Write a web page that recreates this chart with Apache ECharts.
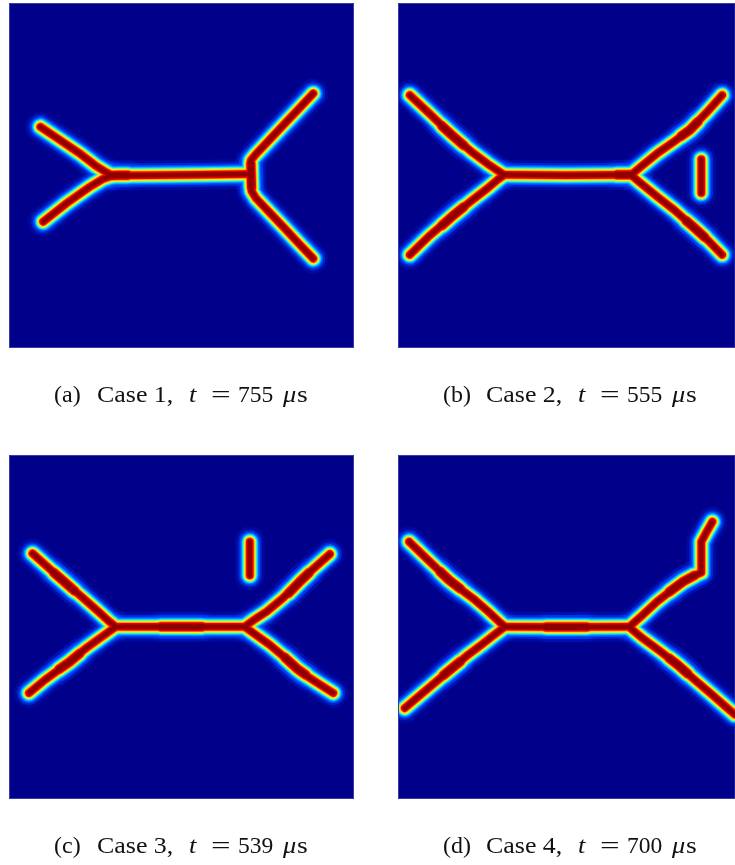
<!DOCTYPE html>
<html>
<head>
<meta charset="utf-8">
<script src="https://cdn.jsdelivr.net/npm/echarts@6/dist/echarts.min.js"></script>
<style>
html,body{margin:0;padding:0;background:#fff;}
#chart{width:735px;height:865px;}
</style>
</head>
<body>
<div id="chart"></div>
<script>
// Panel captions
const captionLetters = ['(a)', '(b)', '(c)', '(d)'];
const caseNames = ['Case 1,', 'Case 2,', 'Case 3,', 'Case 4,'];
const timesUs = ['755', '555', '539', '700'];

// Crack paths (x, y in % of panel width/height, y measured from top)
const case1Paths = [
  [[9.1,35.9],[14,39.2],[20.5,43.6],[25.3,47.3],[28.2,49.1],[29.8,49.9]],
  [[9.9,63.4],[16.6,58.1],[23.4,53.3],[27.2,51.0],[29.8,50.1]],
  [[29.5,50.0],[40,49.9],[55,49.8],[69.8,49.6]],
  [[88.2,26.2],[83.5,31.2],[79.5,35.4],[74.8,40.4],[71.4,44.0],[70.1,45.6],[70.2,50],[70.3,54.5],[71.6,56.6],[75.5,60.7],[79.5,64.9],[84,69.7],[88.2,74.1]]
];
const case1Bulges = [
  [[29.8,50.0],[32,49.95],[34.5,49.9]],
  [[70.1,46.5],[70.2,50],[70.3,53.5]]
];
const case2Paths = [
  [[3.5,26.7],[9.3,32.0],[16.0,38.3],[21.8,43.1],[26.7,46.7],[29.6,48.6],[31.3,49.7]],
  [[3.5,73.0],[9.3,67.5],[16.0,61.9],[21.8,57.3],[26.7,53.6],[29.6,51.2],[31.3,50.0]],
  [[31.3,49.8],[50,49.9],[69.2,49.8]],
  [[69.2,49.8],[72,47.5],[76.9,43.6],[82,40.1],[86.6,36.8],[91.5,31.8],[96.2,26.7]],
  [[69.2,49.9],[72,52.2],[76.9,56.1],[82,60],[87.5,64.8],[92,68.8],[96.2,73.0]],
  [[90.0,45.3],[90.0,55.1]]
];
const case2Bulges = [
  [[13,35.6],[16.0,38.3],[19.5,41.3]],
  [[13,64.5],[16.0,61.9],[19.5,59.1]],
  [[84,38.6],[86.6,36.8],[89,34.4]],
  [[85.5,63.1],[88,65.2],[91,67.9]],
  [[65,49.8],[69.2,49.8]]
];
const case3Paths = [
  [[6.8,28.6],[13.7,34.8],[21.5,41.6],[26,45.6],[28.8,48.2],[30.7,49.7]],
  [[5.8,69.2],[10.5,65.3],[15.7,61.5],[22.4,56.1],[27.5,52.4],[30.7,50.1]],
  [[30.7,49.9],[50,49.9],[68.4,49.9]],
  [[68.4,49.8],[71.5,47.6],[74.7,45.5],[79.5,41.5],[84.3,36.8],[88.5,32.8],[93,28.8]],
  [[68.4,50.0],[72,52.6],[75.6,55.2],[80,58.9],[84.3,62.9],[89,66],[94,69.2]],
  [[69.8,25.2],[69.8,35.0]]
];
const case3Bulges = [
  [[13,34.2],[15.5,36.4],[19,39.5]],
  [[14.5,62.3],[17.5,60.2],[20.5,57.7]],
  [[81,40.2],[84.3,36.8],[87,34.2]],
  [[80,58.9],[83.5,62.1],[86,63.9]],
  [[44,49.9],[56,49.9]]
];
const case4Paths = [
  [[3.3,25.2],[9,30.6],[15.1,36.3],[19,39.3],[22.8,42.1],[27,45.7],[30.5,48.9],[31.5,49.7]],
  [[2.0,73.6],[9,67.8],[16.0,62.0],[20.5,58.3],[24.7,55.2],[28.5,52.3],[31.5,50.1]],
  [[31.5,49.9],[50,50],[68.7,49.9]],
  [[68.7,49.9],[72.5,46.6],[76.9,42.6],[80.8,39.6],[84.6,36.8],[88,35],[90,34.2],[90,29.5],[90,25.2],[91.6,22.3],[93.3,19.4]],
  [[68.7,50.1],[72.5,53.2],[77.9,57.1],[83,61],[87.5,64.9],[93,69.5],[98,73.8],[100,75.5]]
];
const case4Bulges = [
  [[12.5,33.9],[15.1,36.3],[18.5,38.9]],
  [[13.5,64.0],[16.0,62.0],[18.5,60.0]],
  [[80.5,39.8],[84.6,36.8],[88,35]],
  [[80.5,59.1],[83,61],[86,63.6]],
  [[44,50],[56,50]]
];
const allCases = [case1Paths, case2Paths, case3Paths, case4Paths];
const allBulges = [case1Bulges, case2Bulges, case3Bulges, case4Bulges];

// Jet-like colour layers from outer halo to crack core
const layerColors = ['rgba(0,50,255,0.18)','rgba(0,70,255,0.45)','#0050ff','#00a0ff','#10e8ff','#90ff70','#ffe800','#ff8000','#e80000','#900000'];
const layerWidths = [30, 24, 20, 17, 15, 13, 11, 9, 7.5, 4.5];
const bulgeExtra  = [0, 0, 0, 1, 1, 1, 1.5, 1.5, 1.5, 1.5];

const panels = [
  {left: 9, top: 3, width: 345, height: 345},
  {left: 398, top: 3, width: 345, height: 345},
  {left: 9, top: 455, width: 345, height: 344},
  {left: 398, top: 455, width: 345, height: 344}
];
const captionLeft = [54, 443, 54, 443];
const captionMid = [396, 396, 847, 847];

const grid = [], xAxis = [], yAxis = [], series = [], graphic = [];
panels.forEach((p, i) => {
  grid.push(Object.assign({show: true, backgroundColor: '#00008a', borderColor: '#3c3ca8', borderWidth: 1}, p));
  xAxis.push({type: 'value', gridIndex: i, min: 0, max: 100, show: false});
  yAxis.push({type: 'value', gridIndex: i, min: 0, max: 100, inverse: true, show: false});
  layerColors.forEach((c, k) => {
    const data = allCases[i].map(path => ({coords: path}))
      .concat(allBulges[i].map(path => ({coords: path, lineStyle: {width: layerWidths[k] + bulgeExtra[k]}})));
    series.push({
      type: 'lines',
      coordinateSystem: 'cartesian2d',
      xAxisIndex: i, yAxisIndex: i,
      polyline: true,
      silent: true,
      animation: false,
      lineStyle: {color: c, width: layerWidths[k], opacity: 1, cap: 'round', join: 'round'},
      data: data
    });
  });
});

// white masks outside the panels (crop the halo like the original image)
const W = 735, H = 865;
const masks = [
  [0, 0, W, 3], [0, 0, 9, H], [354, 0, 44, H], [0, 348, W, 107], [0, 799, W, 66]
];
masks.forEach(m => graphic.push({type: 'rect', z: 100, silent: true,
  shape: {x: m[0], y: m[1], width: m[2], height: m[3]}, style: {fill: '#fff'}}));
// re-draw panel borders on top
panels.forEach(p => graphic.push({type: 'rect', z: 101, silent: true,
  shape: {x: p.left + 0.5, y: p.top + 0.5, width: p.width - 1, height: p.height - 1},
  style: {fill: 'none', stroke: '#3c3ca8', lineWidth: 1}}));

// captions, token by token: [text, offset, font, horizontal scale]
const font = '24px "Liberation Serif"';
const ifont = 'italic 24px "Liberation Serif"';
captionLetters.forEach((lab, i) => {
  const x0 = captionLeft[i], y = captionMid[i];
  const tokens = [
    [lab, 0, font, 1.0], [caseNames[i], 43, font, 1.08], ['t', 135, ifont, 1.1], ['=', 157, font, 1.45],
    [timesUs[i], 184, font, 0.98], ['μ', 229, ifont, 1.1], ['s', 243, font, 1.15]
  ];
  tokens.forEach(t => graphic.push({
    type: 'text', z: 102, silent: true, x: x0 + t[1], y: y, scaleX: t[3],
    style: {text: t[0], font: t[2], fill: '#111', align: 'left', verticalAlign: 'middle'}
  }));
});

const chart = echarts.init(document.getElementById('chart'), null, {renderer: 'canvas'});
chart.setOption({animation: false, grid, xAxis, yAxis, series, graphic});
</script>
</body>
</html>
